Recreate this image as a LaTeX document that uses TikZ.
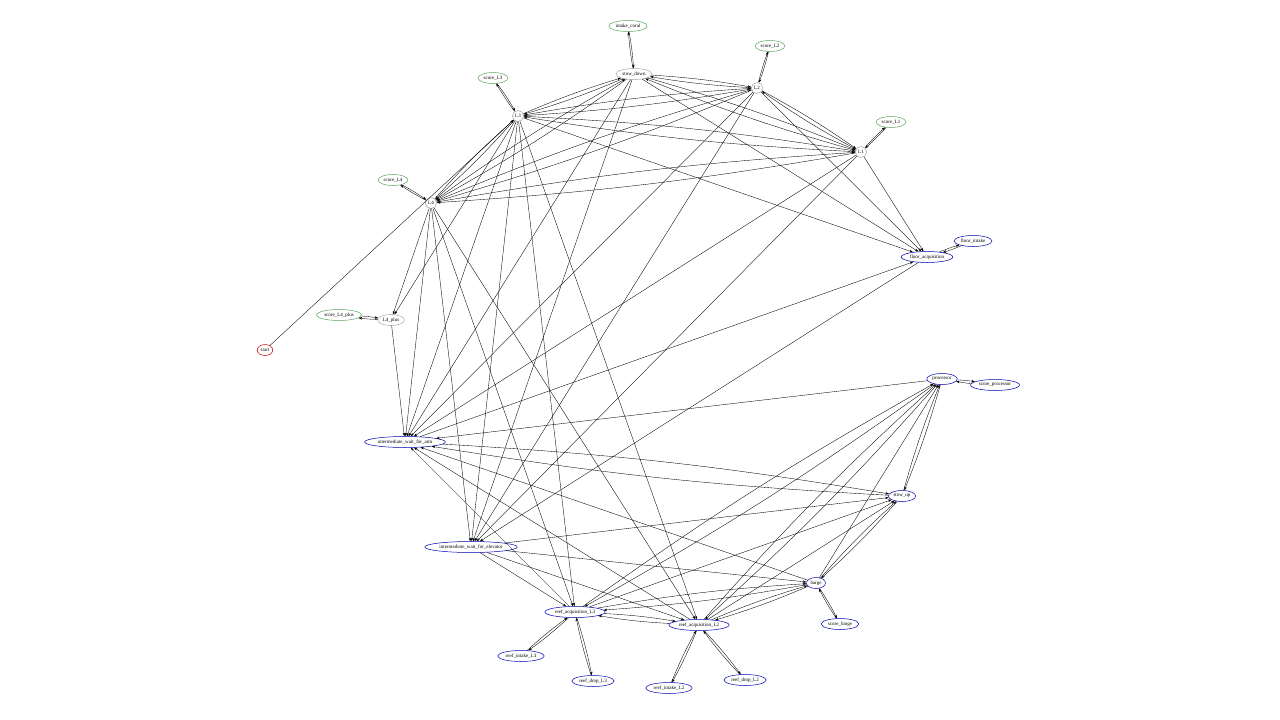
\documentclass[tikz,border=0pt]{standalone}
\usepackage{fontspec}
\setmainfont{Liberation Serif}
\usetikzlibrary{shapes.geometric,arrows.meta}
\begin{document}
\begin{tikzpicture}[x=1pt,y=-1pt,
 st/.style={ellipse,draw=gray!70,line width=0.5pt,inner sep=1.2pt,minimum height=11pt,font=\fontsize{5}{6}\selectfont},
 bl/.style={st,draw=blue!70!black},
 gr/.style={st,draw=green!30!gray},
 rd/.style={st,draw=red!80!black},
 e/.style={-{Stealth[length=3.5pt,width=2.5pt]},line width=0.35pt},
 b/.style={e,bend left=3}]
\useasboundingbox (0,0) rectangle (1280,720);
\fill[white] (0,0) rectangle (1280,720);
\node[gr] (ic) at (628,26) {intake\_coral};
\node[st] (sd) at (634,74) {stow\_down};
\node[gr] (s2) at (770,46) {score\_L2};
\node[st] (L2) at (757,88) {L2};
\node[gr] (s3) at (493,78) {score\_L3};
\node[st] (L3) at (518,116) {L3};
\node[gr] (s1) at (891,122) {score\_L1};
\node[st] (L1) at (861,152) {L1};
\node[gr] (s4) at (393,180) {score\_L4};
\node[st] (L4) at (431,203) {L4};
\node[bl] (fi) at (973,241) {floor\_intake};
\node[bl] (fa) at (927,257) {floor\_acquisition};
\node[gr] (s4p) at (339,315) {score\_L4\_plus};
\node[st] (L4p) at (391,320) {L4\_plus};
\node[rd] (start) at (265,350) {start};
\node[bl] (pr) at (942,379) {processor};
\node[bl] (sp) at (995,385) {score\_processor};
\node[bl] (wa) at (405,442) {intermediate\_wait\_for\_arm};
\node[bl] (su) at (902,496) {stow\_up};
\node[bl] (we) at (471,547) {intermediate\_wait\_for\_elevator};
\node[bl] (ba) at (816,583) {barge};
\node[bl] (sb) at (840,624) {score\_barge};
\node[bl] (r3) at (575,612) {reef\_acquisition\_L3};
\node[bl] (r2) at (699,625) {reef\_acquisition\_L2};
\node[bl] (i3) at (521,656) {reef\_intake\_L3};
\node[bl] (d3) at (593,681) {reef\_drop\_L3};
\node[bl] (i2) at (669,688) {reef\_intake\_L2};
\node[bl] (d2) at (745,680) {reef\_drop\_L2};
% bidirectional pairs
\foreach \a/\c in {ic/sd,s2/L2,s3/L3,s1/L1,s4/L4,fi/fa,s4p/L4p,pr/sp,ba/sb,r3/i3,r3/d3,r2/i2,r2/d2,
 sd/L2,sd/L3,sd/L1,sd/L4,L3/L2,L3/L1,L4/L2,L4/L1,L4/L3,L2/L1,wa/su,r3/r2,ba/r3,ba/r2,pr/su,su/ba,
 r3/pr,r2/pr}
 {\draw[b] (\a) to (\c); \draw[b] (\c) to (\a);}
% one-way edges
\foreach \a/\c in {start/L3,sd/fa,L2/fa,L1/fa,L3/fa,wa/fa,fa/we,L4/L4p,L3/L4p,
 L4/wa,L4p/wa,L3/wa,sd/wa,L2/wa,L1/wa,pr/wa,r3/wa,r2/wa,ba/wa,
 sd/we,L3/we,L2/we,L1/we,L4/we,we/su,we/ba,we/r3,we/r2,
 L4/r3,L3/r3,L4/r2,L3/r2,ba/pr,r3/su,r2/su}
 {\draw[e] (\a) -- (\c);}
\end{tikzpicture}
\end{document}
